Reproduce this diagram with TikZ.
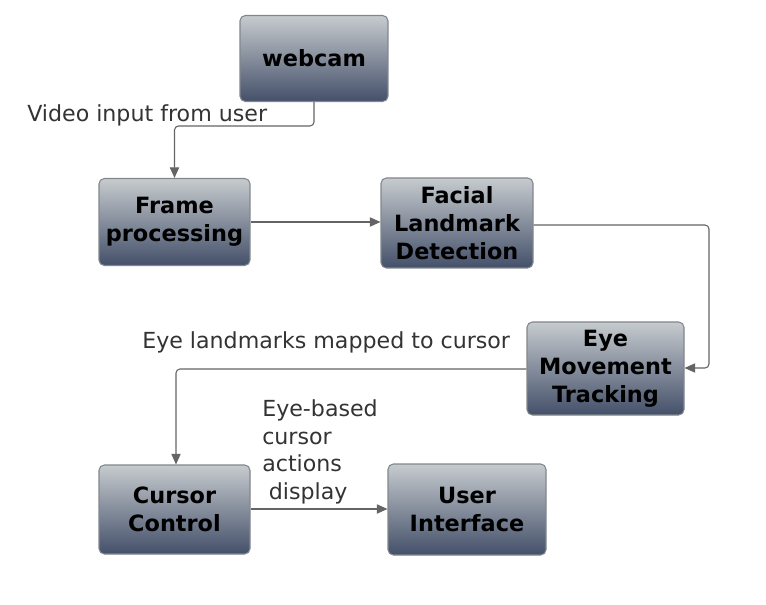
\documentclass[tikz,border=0pt]{standalone}
\usepackage{fontspec}
\setmainfont{DejaVu Sans}
\usetikzlibrary{arrows.meta}
\definecolor{boxtop}{RGB}{198,203,206}
\definecolor{boxbot}{RGB}{68,80,106}
\definecolor{boxline}{RGB}{130,135,140}
\definecolor{conn}{RGB}{100,100,100}
\definecolor{lbl}{RGB}{51,51,51}
\tikzset{
  procbox/.style={draw=boxline, line width=0.8pt, rounded corners=4pt,
    top color=boxtop, bottom color=boxbot, inner sep=0pt, align=center,
    font=\fontsize{16.8pt}{21pt}\selectfont\bfseries, text=black},
  flow/.style={draw=conn, line width=0.8pt, rounded corners=3pt,
    -{Triangle[length=8pt,width=7pt]}},
  lab/.style={inner sep=0pt, text=lbl, font=\fontsize{16.6pt}{20.6pt}\selectfont}
}
\begin{document}
\begin{tikzpicture}[x=0.75pt,y=-0.75pt]
\useasboundingbox (0,0) rectangle (766,605);
\node[procbox, minimum width=111pt, minimum height=64.5pt] (webcam) at (314,58.5) {webcam};
\node[procbox, minimum width=113.25pt, minimum height=65.25pt] (frame) at (174.5,222) {Frame\\processing};
\node[procbox, minimum width=114pt, minimum height=67.5pt] (facial) at (457,223) {Facial\\Landmark\\Detection};
\node[procbox, minimum width=117.75pt, minimum height=69.75pt] (eye) at (605.5,368.5) {Eye\\Movement\\Tracking};
\node[procbox, minimum width=113.25pt, minimum height=66.75pt] (cursor) at (174.5,509.5) {Cursor\\Control};
\node[procbox, minimum width=118.5pt, minimum height=68.25pt] (ui) at (467,509.5) {User\\Interface};

\draw[flow] (webcam.south) -- (314,126) -- (174.5,126) -- (frame.north);
\draw[flow] (frame.east |- 0,222) -- (facial.west |- 0,222);
\draw[flow] (facial.east |- 0,225) -- (709,225) -- (709,368) -- (eye.east |- 0,368);
\draw[flow] (eye.west |- 0,369) -- (176,369) -- (cursor.north -| 176,0);
\draw[flow] (cursor.east |- 0,509) -- (ui.west |- 0,509);

\node[lab, anchor=west] (l1) at (27,115) {Video input from user};
\node[lab, anchor=west] (l2) at (142,342) {Eye landmarks mapped to cursor};
\node[lab, anchor=west, align=left] (l3) at (262,452) {Eye-based\\cursor\\actions\\\hspace*{0.3em}display};
\end{tikzpicture}
\end{document}
